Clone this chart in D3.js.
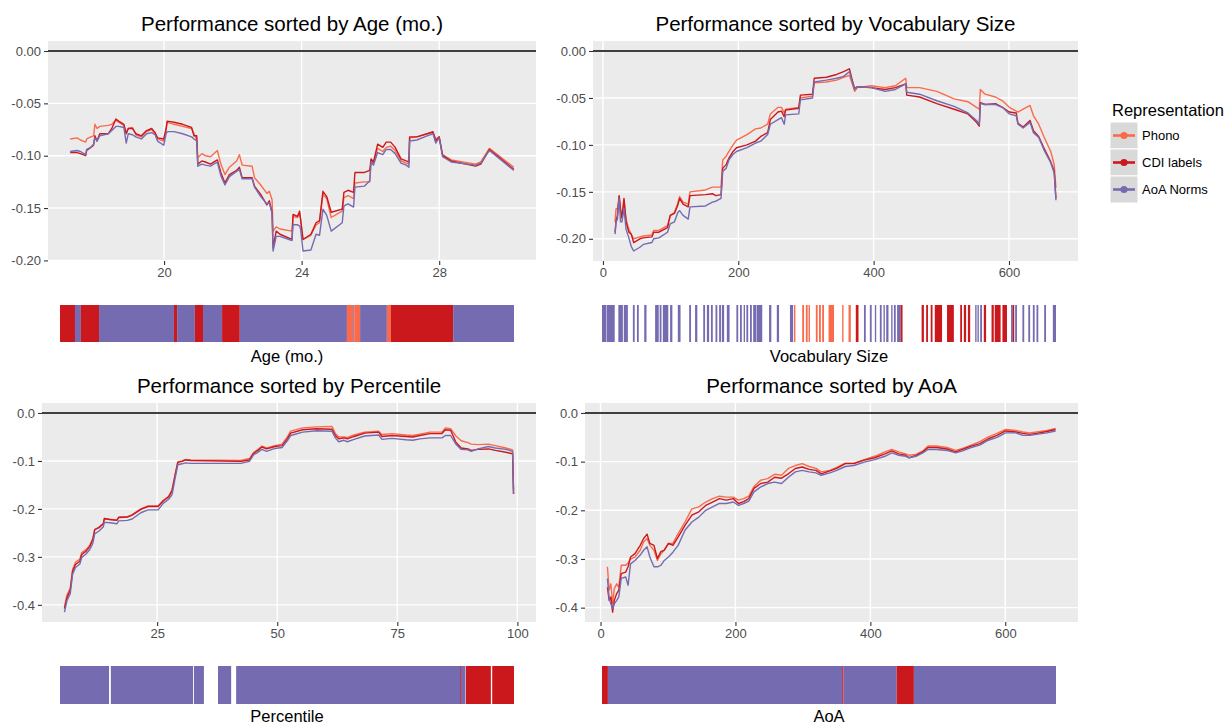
<!DOCTYPE html>
<html>
<head>
<meta charset="utf-8">
<script src="https://cdn.jsdelivr.net/npm/d3@7"></script>
<style>
body { margin: 0; background: #fff; }
text { font-family: "Liberation Sans", Arial, sans-serif; }
</style>
</head>
<body>
<div id="canvas"></div>
<script>
var w = 1228;
var h = 725;

// representations
var reps = ["Phono", "CDI labels", "AoA Norms"];
var repColors = ["#fb6a4a", "#cb181d", "#756bb1"];

// --- Performance sorted by Age (mo.)
var ageX = [17.27,17.47,17.57,17.72,17.75,17.87,17.95,17.99,18.05,18.13,
  18.38,18.48,18.60,18.68,18.83,18.90,18.96,19.08,19.18,19.34,
  19.49,19.64,19.74,19.81,19.99,20.06,20.09,20.29,20.54,20.80,
  20.87,20.95,20.98,21.10,21.20,21.35,21.55,21.65,21.77,21.90,
  22.11,22.19,22.27,22.56,22.63,22.81,22.99,23.06,23.14,23.17,
  23.26,23.37,23.72,23.75,23.88,23.94,23.97,24.04,24.27,24.42,
  24.52,24.62,24.73,24.86,25.18,25.23,25.35,25.51,25.55,25.83,
  25.98,26.02,26.09,26.21,26.36,26.46,26.59,26.72,26.89,27.04,
  27.12,27.14,27.35,27.65,27.82,27.90,28.00,28.10,28.35,29.06,
  29.21,29.46,30.17];
var agePhono = [-0.084,-0.083,-0.085,-0.087,-0.084,-0.082,-0.081,-0.070,-0.074,-0.072,
  -0.071,-0.070,-0.066,-0.068,-0.071,-0.078,-0.074,-0.073,-0.080,-0.082,
  -0.077,-0.075,-0.079,-0.084,-0.086,-0.075,-0.068,-0.070,-0.072,-0.074,
  -0.079,-0.085,-0.102,-0.098,-0.100,-0.101,-0.095,-0.108,-0.118,-0.111,
  -0.105,-0.099,-0.109,-0.110,-0.121,-0.128,-0.136,-0.134,-0.142,-0.172,
  -0.168,-0.170,-0.172,-0.158,-0.159,-0.155,-0.160,-0.180,-0.176,-0.166,
  -0.164,-0.137,-0.141,-0.159,-0.153,-0.140,-0.138,-0.141,-0.126,-0.125,
  -0.125,-0.104,-0.107,-0.093,-0.096,-0.092,-0.091,-0.095,-0.105,-0.107,
  -0.108,-0.083,-0.082,-0.079,-0.078,-0.084,-0.082,-0.099,-0.104,-0.108,
  -0.106,-0.093,-0.111];
var ageCdi = [-0.097,-0.097,-0.098,-0.100,-0.095,-0.092,-0.090,-0.081,-0.086,-0.079,
  -0.079,-0.074,-0.065,-0.067,-0.070,-0.079,-0.074,-0.074,-0.079,-0.081,
  -0.076,-0.074,-0.078,-0.083,-0.084,-0.074,-0.067,-0.068,-0.070,-0.073,
  -0.081,-0.081,-0.108,-0.105,-0.106,-0.108,-0.104,-0.116,-0.126,-0.118,
  -0.114,-0.111,-0.121,-0.121,-0.129,-0.137,-0.147,-0.143,-0.154,-0.188,
  -0.172,-0.175,-0.180,-0.156,-0.158,-0.153,-0.161,-0.180,-0.175,-0.164,
  -0.162,-0.134,-0.139,-0.154,-0.151,-0.135,-0.133,-0.135,-0.116,-0.116,
  -0.114,-0.103,-0.106,-0.089,-0.092,-0.087,-0.087,-0.092,-0.103,-0.105,
  -0.106,-0.082,-0.082,-0.079,-0.077,-0.086,-0.082,-0.100,-0.105,-0.110,
  -0.108,-0.094,-0.113];
var ageAoa = [-0.096,-0.095,-0.096,-0.099,-0.094,-0.092,-0.089,-0.083,-0.086,-0.081,
  -0.079,-0.076,-0.072,-0.072,-0.073,-0.088,-0.079,-0.080,-0.082,-0.084,
  -0.079,-0.078,-0.080,-0.086,-0.090,-0.079,-0.077,-0.077,-0.079,-0.082,
  -0.084,-0.086,-0.110,-0.108,-0.109,-0.110,-0.106,-0.119,-0.128,-0.120,
  -0.115,-0.113,-0.122,-0.122,-0.130,-0.139,-0.146,-0.145,-0.155,-0.191,
  -0.177,-0.177,-0.181,-0.166,-0.166,-0.167,-0.170,-0.191,-0.190,-0.175,
  -0.176,-0.151,-0.157,-0.172,-0.164,-0.148,-0.146,-0.149,-0.130,-0.129,
  -0.124,-0.106,-0.109,-0.097,-0.099,-0.094,-0.094,-0.098,-0.107,-0.109,
  -0.111,-0.086,-0.085,-0.081,-0.079,-0.088,-0.083,-0.101,-0.106,-0.109,
  -0.107,-0.095,-0.114];

// --- Performance sorted by Vocabulary Size
var vocabX = [17.9,19.4,21.4,24.0,26.0,28.1,31.1,34.2,38.3,41.8,
  45.4,54.6,59.7,72.4,75.0,82.7,95.4,99.5,105.6,110.7,
  113.3,118.4,126.0,128.6,151.5,161.7,166.8,174.5,177.0,182.1,
  186.2,192.3,197.4,212.8,225.5,233.2,243.4,247.4,258.7,263.8,
  267.9,269.9,289.3,291.8,309.7,312.2,330.1,345.4,355.6,364.3,
  368.4,371.9,376.0,396.4,416.8,432.1,447.4,449.0,467.9,493.4,
  518.9,539.3,552.0,556.1,557.7,564.8,580.1,590.3,600.5,610.7,
  613.3,620.9,631.1,636.2,643.9,651.5,661.7,666.8,669.4];
var vocabPhono = [-0.182,-0.168,-0.168,-0.155,-0.170,-0.177,-0.159,-0.179,-0.190,-0.195,
  -0.200,-0.198,-0.197,-0.196,-0.191,-0.191,-0.186,-0.175,-0.172,-0.162,
  -0.155,-0.161,-0.163,-0.150,-0.148,-0.145,-0.145,-0.145,-0.116,-0.112,
  -0.107,-0.100,-0.095,-0.089,-0.083,-0.082,-0.078,-0.067,-0.060,-0.060,
  -0.066,-0.062,-0.060,-0.050,-0.048,-0.034,-0.033,-0.031,-0.028,-0.026,
  -0.035,-0.043,-0.039,-0.037,-0.039,-0.037,-0.029,-0.039,-0.039,-0.043,
  -0.051,-0.054,-0.060,-0.062,-0.041,-0.046,-0.049,-0.053,-0.060,-0.064,
  -0.065,-0.062,-0.058,-0.069,-0.078,-0.091,-0.107,-0.121,-0.146];
var vocabCdi = [-0.193,-0.181,-0.175,-0.154,-0.168,-0.178,-0.157,-0.182,-0.193,-0.195,
  -0.204,-0.200,-0.199,-0.198,-0.193,-0.193,-0.188,-0.175,-0.173,-0.164,
  -0.157,-0.163,-0.166,-0.154,-0.153,-0.152,-0.154,-0.153,-0.125,-0.121,
  -0.114,-0.107,-0.103,-0.100,-0.096,-0.091,-0.087,-0.073,-0.065,-0.064,
  -0.070,-0.063,-0.061,-0.047,-0.046,-0.029,-0.028,-0.025,-0.022,-0.019,
  -0.031,-0.040,-0.038,-0.039,-0.041,-0.039,-0.035,-0.047,-0.049,-0.056,
  -0.062,-0.067,-0.076,-0.080,-0.055,-0.057,-0.056,-0.060,-0.065,-0.066,
  -0.077,-0.081,-0.074,-0.085,-0.091,-0.103,-0.118,-0.128,-0.157];
var vocabAoa = [-0.195,-0.182,-0.179,-0.157,-0.182,-0.182,-0.168,-0.190,-0.199,-0.208,
  -0.213,-0.209,-0.206,-0.204,-0.200,-0.199,-0.193,-0.184,-0.182,-0.172,
  -0.170,-0.175,-0.179,-0.166,-0.165,-0.161,-0.160,-0.157,-0.128,-0.125,
  -0.116,-0.110,-0.107,-0.103,-0.098,-0.096,-0.089,-0.078,-0.073,-0.071,
  -0.078,-0.068,-0.067,-0.052,-0.050,-0.033,-0.031,-0.029,-0.027,-0.022,
  -0.033,-0.041,-0.038,-0.039,-0.043,-0.041,-0.035,-0.044,-0.046,-0.053,
  -0.059,-0.066,-0.074,-0.078,-0.056,-0.057,-0.057,-0.060,-0.067,-0.069,
  -0.078,-0.082,-0.076,-0.087,-0.092,-0.105,-0.119,-0.130,-0.159];

// --- Performance sorted by Percentile
var pctX = [5.7,6.2,6.9,7.4,8.0,8.9,9.3,10.2,11.0,11.6,
  12.0,12.9,13.8,14.0,15.2,16.6,17.0,18.8,19.8,21.6,
  23.1,25.2,26.3,27.4,28.1,28.8,29.3,30.2,30.9,32.0,
  42.4,44.2,45.1,46.0,46.8,47.8,49.5,51.0,52.1,52.8,
  55.3,58.2,61.4,62.1,62.8,63.9,64.6,66.0,68.2,71.1,
  71.8,73.9,76.8,78.2,79.7,81.8,84.3,85.0,86.1,87.2,
  88.3,89.7,90.4,91.8,94.0,95.4,97.6,99.0,99.2];
var pctPhono = [-0.405,-0.380,-0.365,-0.326,-0.311,-0.305,-0.291,-0.285,-0.275,-0.262,
  -0.243,-0.238,-0.230,-0.221,-0.222,-0.223,-0.217,-0.216,-0.212,-0.200,
  -0.194,-0.194,-0.182,-0.174,-0.160,-0.125,-0.102,-0.100,-0.097,-0.098,
  -0.099,-0.095,-0.082,-0.076,-0.069,-0.073,-0.068,-0.065,-0.050,-0.038,
  -0.031,-0.029,-0.028,-0.043,-0.050,-0.050,-0.051,-0.046,-0.040,-0.038,
  -0.045,-0.043,-0.046,-0.047,-0.044,-0.040,-0.040,-0.031,-0.033,-0.048,
  -0.058,-0.062,-0.065,-0.066,-0.065,-0.068,-0.073,-0.077,-0.160];
var pctCdi = [-0.408,-0.386,-0.369,-0.330,-0.316,-0.309,-0.295,-0.288,-0.278,-0.264,
  -0.243,-0.239,-0.231,-0.220,-0.222,-0.224,-0.218,-0.217,-0.213,-0.201,
  -0.195,-0.195,-0.183,-0.175,-0.162,-0.127,-0.103,-0.101,-0.098,-0.099,
  -0.101,-0.098,-0.084,-0.078,-0.071,-0.075,-0.070,-0.068,-0.054,-0.042,
  -0.035,-0.033,-0.034,-0.047,-0.054,-0.052,-0.054,-0.049,-0.042,-0.040,
  -0.049,-0.047,-0.049,-0.050,-0.047,-0.043,-0.043,-0.035,-0.036,-0.061,
  -0.073,-0.075,-0.078,-0.076,-0.075,-0.078,-0.082,-0.085,-0.169];
var pctAoa = [-0.415,-0.392,-0.377,-0.336,-0.322,-0.315,-0.301,-0.294,-0.284,-0.272,
  -0.252,-0.246,-0.237,-0.228,-0.229,-0.231,-0.225,-0.224,-0.221,-0.208,
  -0.202,-0.202,-0.188,-0.180,-0.170,-0.133,-0.108,-0.106,-0.104,-0.105,
  -0.105,-0.101,-0.087,-0.082,-0.076,-0.080,-0.074,-0.072,-0.058,-0.047,
  -0.040,-0.037,-0.038,-0.052,-0.060,-0.057,-0.060,-0.055,-0.048,-0.046,
  -0.055,-0.053,-0.056,-0.057,-0.054,-0.052,-0.052,-0.047,-0.047,-0.065,
  -0.076,-0.077,-0.080,-0.075,-0.070,-0.073,-0.076,-0.080,-0.168];

// --- Performance sorted by AoA
var aoaX = [10.2,12.8,15.3,17.9,20.4,24.0,27.1,30.7,37.3,40.9,
  44.5,51.1,58.8,63.9,69.0,73.1,79.2,84.3,89.4,94.5,
  100.7,107.3,115.0,125.2,135.4,145.7,155.9,166.1,176.3,186.5,
  196.8,204.4,212.1,219.8,227.4,237.6,247.9,258.1,268.3,278.5,
  288.8,299.0,309.2,319.4,327.1,339.9,350.1,362.9,375.6,391.0,
  406.3,421.6,431.8,442.1,452.3,457.4,467.6,477.8,485.5,498.3,
  513.6,526.4,536.6,549.4,562.2,574.9,587.7,600.5,615.8,626.0,
  636.2,646.5,661.8,674.6];
var aoaPhono = [-0.316,-0.364,-0.351,-0.392,-0.361,-0.351,-0.358,-0.313,-0.313,-0.308,
  -0.300,-0.296,-0.282,-0.265,-0.258,-0.272,-0.282,-0.303,-0.290,-0.282,
  -0.268,-0.268,-0.248,-0.224,-0.197,-0.193,-0.183,-0.176,-0.171,-0.173,
  -0.173,-0.179,-0.176,-0.171,-0.151,-0.138,-0.135,-0.126,-0.128,-0.114,
  -0.108,-0.104,-0.110,-0.114,-0.121,-0.118,-0.112,-0.103,-0.103,-0.096,
  -0.089,-0.080,-0.075,-0.080,-0.084,-0.087,-0.085,-0.078,-0.068,-0.068,
  -0.071,-0.077,-0.073,-0.066,-0.059,-0.049,-0.042,-0.034,-0.036,-0.039,
  -0.041,-0.039,-0.036,-0.032];
var aoaCdi = [-0.358,-0.385,-0.378,-0.409,-0.385,-0.371,-0.364,-0.330,-0.327,-0.316,
  -0.296,-0.289,-0.272,-0.258,-0.249,-0.268,-0.272,-0.299,-0.285,-0.282,
  -0.268,-0.272,-0.255,-0.231,-0.210,-0.203,-0.190,-0.183,-0.176,-0.179,
  -0.176,-0.186,-0.182,-0.176,-0.155,-0.145,-0.142,-0.132,-0.134,-0.125,
  -0.114,-0.111,-0.116,-0.118,-0.125,-0.119,-0.114,-0.104,-0.104,-0.097,
  -0.092,-0.084,-0.078,-0.084,-0.087,-0.092,-0.087,-0.080,-0.071,-0.071,
  -0.074,-0.080,-0.075,-0.068,-0.063,-0.053,-0.046,-0.037,-0.039,-0.042,
  -0.044,-0.042,-0.038,-0.034];
var aoaAoa = [-0.340,-0.381,-0.392,-0.402,-0.392,-0.385,-0.378,-0.340,-0.337,-0.354,
  -0.310,-0.303,-0.292,-0.282,-0.275,-0.296,-0.316,-0.316,-0.313,-0.303,
  -0.296,-0.286,-0.272,-0.241,-0.224,-0.214,-0.200,-0.193,-0.186,-0.186,
  -0.183,-0.190,-0.186,-0.181,-0.162,-0.152,-0.145,-0.142,-0.145,-0.132,
  -0.121,-0.118,-0.121,-0.123,-0.128,-0.123,-0.118,-0.110,-0.108,-0.101,
  -0.096,-0.089,-0.082,-0.087,-0.089,-0.092,-0.089,-0.082,-0.075,-0.075,
  -0.077,-0.082,-0.078,-0.071,-0.066,-0.056,-0.050,-0.041,-0.041,-0.046,
  -0.046,-0.044,-0.041,-0.037];

// best representation strips: [from %, to %, representation]
var P = "Phono", C = "CDI labels", A = "AoA Norms";
var stripAge = [[0,3.3,C],[3.3,4.6,A],[4.6,8.6,C],[8.6,25.1,A],[25.1,25.8,C],[25.8,29.7,A],
  [29.7,31.5,C],[31.5,35.7,A],[35.7,39.6,C],[39.6,63.2,A],[63.2,64.6,P],[64.6,64.8,A],
  [64.8,66.1,P],[66.1,72.0,A],[72.0,72.9,P],[72.9,86.6,C],[86.6,100,A]];
var stripVocab = [[0.0,0.9,A],[1.0,2.8,A],[3.6,4.6,A],[4.8,5.7,A],[6.8,7.2,A],[7.7,8.1,A],
  [9.3,9.8,A],[11.7,12.5,A],[12.7,13.1,A],[13.4,14.6,A],[15.0,15.5,A],[16.7,17.3,A],
  [19.2,19.6,A],[20.5,21.0,A],[22.3,22.7,A],[23.1,23.6,A],[24.0,24.4,A],[25.0,25.4,A],
  [25.8,26.2,A],[26.4,26.9,A],[27.5,28.1,A],[29.6,30.0,A],[30.4,30.8,A],[31.2,31.5,A],
  [31.8,32.2,A],[32.6,33.0,A],[33.3,34.0,A],[34.1,35.3,A],[36.8,37.3,A],[38.5,39.0,A],
  [41.4,42.1,A],[42.3,42.6,P],[44.1,44.5,P],[44.9,45.3,P],[45.5,45.8,P],[47.1,47.5,P],
  [47.8,48.2,P],[48.5,48.9,P],[49.9,51.1,P],[52.9,53.2,P],[54.3,54.8,P],[55.9,56.5,C],
  [57.7,58.1,A],[59.0,59.4,A],[60.1,60.4,A],[61.2,61.6,A],[62.0,62.3,A],[62.6,63.1,A],
  [63.7,64.0,A],[64.3,64.7,A],[65.0,65.8,A],[65.8,66.2,C],[70.4,70.9,C],[71.4,71.8,C],
  [72.4,72.8,C],[73.3,74.9,C],[76.0,77.5,C],[78.9,79.3,C],[79.7,80.2,C],[80.6,81.1,C],
  [82.2,82.5,A],[82.7,83.0,A],[83.3,83.7,A],[84.1,84.6,C],[85.8,86.3,C],[86.5,87.8,C],
  [88.2,89.2,C],[90.1,90.5,A],[90.5,90.8,C],[91.0,91.4,A],[92.6,93.0,A],[93.9,94.3,A],
  [94.9,95.3,A],[95.7,96.1,A],[97.4,97.8,A],[99.3,100,A]];
var stripPct = [[0,10.8,A],[11.2,29.3,A],[29.5,31.7,A],[34.8,37.7,A],[38.8,88.1,A],
  [88.1,88.3,C],[88.3,89.3,A],[89.4,94.9,C],[95.2,100,C]];
var stripAoa = [[0,1.3,C],[1.3,52.9,A],[52.9,53.2,C],[53.2,64.9,A],[64.9,68.7,C],[68.7,100,A]];

var color = d3.scaleOrdinal().domain(reps).range(repColors);

var canvas = d3.select("#canvas")
  .append("svg")
  .attr("width", w)
  .attr("height", h)
  .style("background-color", "white");

var panels = [
  { title: "Performance sorted by Age (mo.)", x0: 48, x1: 536, y0: 41, y1: 261,
    xs: ageX, series: [agePhono, ageCdi, ageAoa], xTicks: [20, 24, 28],
    yTicks: [0, -0.05, -0.1, -0.15, -0.2], digits: 2,
    strip: stripAge, sx0: 60, sx1: 514, sy0: 305, sy1: 342, label: "Age (mo.)", labelDy: 20 },
  { title: "Performance sorted by Vocabulary Size", x0: 593, x1: 1078, y0: 41, y1: 261,
    xs: vocabX, series: [vocabPhono, vocabCdi, vocabAoa], xTicks: [0, 200, 400, 600],
    yTicks: [0, -0.05, -0.1, -0.15, -0.2], digits: 2,
    strip: stripVocab, sx0: 602, sx1: 1056, sy0: 305, sy1: 342, label: "Vocabulary Size", labelDy: 20 },
  { title: "Performance sorted by Percentile", x0: 42, x1: 536, y0: 403, y1: 622,
    xs: pctX, series: [pctPhono, pctCdi, pctAoa], xTicks: [25, 50, 75, 100],
    yTicks: [0, -0.1, -0.2, -0.3, -0.4], digits: 1,
    strip: stripPct, sx0: 60, sx1: 514, sy0: 666, sy1: 704, label: "Percentile", labelDy: 18 },
  { title: "Performance sorted by AoA", x0: 585, x1: 1078, y0: 403, y1: 622,
    xs: aoaX, series: [aoaPhono, aoaCdi, aoaAoa], xTicks: [0, 200, 400, 600],
    yTicks: [0, -0.1, -0.2, -0.3, -0.4], digits: 1,
    strip: stripAoa, sx0: 602, sx1: 1056, sy0: 666, sy1: 704, label: "AoA", labelDy: 18 }
];

function expand(ext) {
  var pad = (ext[1] - ext[0]) * 0.05;
  return [ext[0] - pad, ext[1] + pad];
}

panels.forEach(function(p, pi) {
  var allY = d3.merge(p.series).concat([0]);
  var xScale = d3.scaleLinear().domain(expand(d3.extent(p.xs))).range([p.x0, p.x1]);
  var yScale = d3.scaleLinear().domain(expand(d3.extent(allY))).range([p.y1, p.y0]);

  var g = canvas.append("g");

  g.append("rect")
    .attr("x", p.x0).attr("y", p.y0)
    .attr("width", p.x1 - p.x0).attr("height", p.y1 - p.y0)
    .attr("fill", "#ebebeb");

  // grid
  g.selectAll(".gy").data(p.yTicks).join("line")
    .attr("x1", p.x0).attr("x2", p.x1)
    .attr("y1", d => yScale(d)).attr("y2", d => yScale(d))
    .attr("stroke", "white").attr("stroke-width", 1.4);
  g.selectAll(".gx").data(p.xTicks).join("line")
    .attr("x1", d => xScale(d)).attr("x2", d => xScale(d))
    .attr("y1", p.y0).attr("y2", p.y1)
    .attr("stroke", "white").attr("stroke-width", 1.4);

  // zero line
  g.append("line")
    .attr("x1", p.x0).attr("x2", p.x1)
    .attr("y1", yScale(0)).attr("y2", yScale(0))
    .attr("stroke", "black").attr("stroke-width", 1.4);

  var clipId = "clip" + pi;
  canvas.append("clipPath").attr("id", clipId).append("rect")
    .attr("x", p.x0).attr("y", p.y0)
    .attr("width", p.x1 - p.x0).attr("height", p.y1 - p.y0);

  var line = d3.line()
    .x(d => xScale(d[0]))
    .y(d => yScale(d[1]));

  p.series.forEach(function(ys, si) {
    g.append("path")
      .datum(p.xs.map((x, i) => [x, ys[i]]))
      .attr("clip-path", "url(#" + clipId + ")")
      .attr("fill", "none")
      .attr("stroke", repColors[si])
      .attr("stroke-width", 1.4)
      .attr("stroke-linejoin", "round")
      .attr("d", line);
  });

  // axes
  var yAxis = d3.axisLeft(yScale).tickValues(p.yTicks)
    .tickSize(4).tickPadding(3)
    .tickFormat(d => d.toFixed(p.digits));
  var xAxis = d3.axisBottom(xScale).tickValues(p.xTicks)
    .tickSize(4).tickPadding(3)
    .tickFormat(d => String(d));

  var ya = g.append("g").attr("transform", "translate(" + p.x0 + ",0)").call(yAxis);
  var xa = g.append("g").attr("transform", "translate(0," + p.y1 + ")").call(xAxis);
  [ya, xa].forEach(function(a) {
    a.select(".domain").remove();
    a.selectAll(".tick line").attr("stroke", "#333333").attr("stroke-width", 1.1);
    a.selectAll(".tick text")
      .attr("fill", "#4d4d4d")
      .style("font-size", "13px")
      .style("font-family", "'Liberation Sans', Arial, sans-serif");
  });

  // title
  canvas.append("text")
    .attr("x", (p.x0 + p.x1) / 2)
    .attr("y", p.y0 - 10)
    .attr("text-anchor", "middle")
    .attr("fill", "black")
    .style("font-size", "20.5px")
    .text(p.title);

  // strip of best representation
  var sScale = d3.scaleLinear().domain([0, 100]).range([p.sx0, p.sx1]);
  canvas.append("g").selectAll("rect")
    .data(p.strip)
    .join("rect")
    .attr("x", d => sScale(d[0]))
    .attr("y", p.sy0)
    .attr("width", d => Math.max(0.8, sScale(d[1]) - sScale(d[0])))
    .attr("height", p.sy1 - p.sy0)
    .attr("fill", d => color(d[2]));

  canvas.append("text")
    .attr("x", (p.sx0 + p.sx1) / 2)
    .attr("y", p.sy1 + p.labelDy)
    .attr("text-anchor", "middle")
    .attr("fill", "black")
    .style("font-size", "16.5px")
    .text(p.label);
});

// legend
var legend = canvas.append("g").attr("transform", "translate(1110, 0)");
legend.append("text")
  .attr("x", 2).attr("y", 116)
  .attr("fill", "black")
  .style("font-size", "16.5px")
  .text("Representation");

var keys = legend.selectAll(".key")
  .data(reps)
  .join("g")
  .attr("transform", (d, i) => "translate(0," + (122 + i * 27) + ")");
keys.append("rect")
  .attr("width", 28).attr("height", 27)
  .attr("fill", "#d9d9d9").attr("stroke", "white").attr("stroke-width", 1);
keys.append("line")
  .attr("x1", 3).attr("x2", 25).attr("y1", 13.5).attr("y2", 13.5)
  .attr("stroke", d => color(d)).attr("stroke-width", 2.6);
keys.append("circle")
  .attr("cx", 14).attr("cy", 13.5).attr("r", 3.6)
  .attr("fill", d => color(d));
keys.append("text")
  .attr("x", 32).attr("y", 18)
  .attr("fill", "black")
  .style("font-size", "13px")
  .text(d => d);
</script>
</body>
</html>
